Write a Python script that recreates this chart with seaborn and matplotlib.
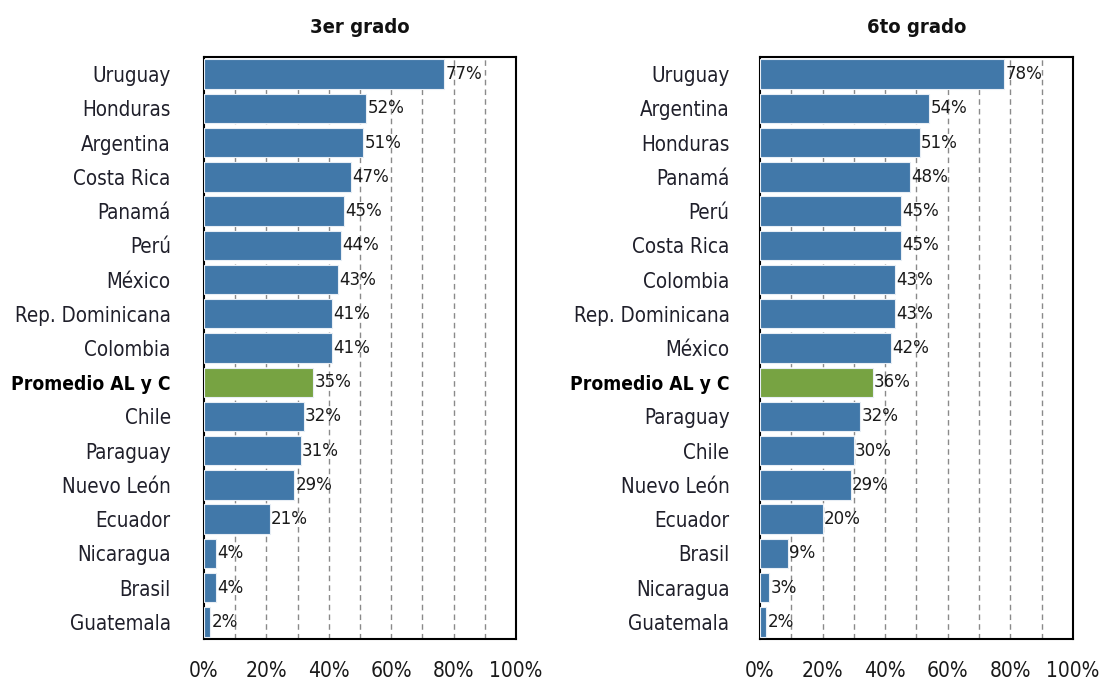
import matplotlib
matplotlib.use("Agg")
import matplotlib.pyplot as plt
import seaborn as sns
import pandas as pd

sns.set_theme(style="white")
plt.rcParams['font.family'] = ['DejaVu Sans']
plt.rcParams['font.stretch'] = 'condensed'

cats_3 = ["Uruguay", "Honduras", "Argentina", "Costa Rica", "Panamá", "Perú", "México",
          "Rep. Dominicana", "Colombia", "Promedio AL y C", "Chile", "Paraguay",
          "Nuevo León", "Ecuador", "Nicaragua", "Brasil", "Guatemala"]
vals_3 = [77, 52, 51, 47, 45, 44, 43, 41, 41, 35, 32, 31, 29, 21, 4, 4, 2]

cats_6 = ["Uruguay", "Argentina", "Honduras", "Panamá", "Perú", "Costa Rica", "Colombia",
          "Rep. Dominicana", "México", "Promedio AL y C", "Paraguay", "Chile",
          "Nuevo León", "Ecuador", "Brasil", "Nicaragua", "Guatemala"]
vals_6 = [78, 54, 51, 48, 45, 45, 43, 43, 42, 36, 32, 30, 29, 20, 9, 3, 2]

titles = ["3er grado", "6to grado"]
xticks = [0, 20, 40, 60, 80, 100]
xtick_labels = ["0%", "20%", "40%", "60%", "80%", "100%"]
avg_label = "Promedio AL y C"

BLUE = "#4178A9"
GREEN = "#77A342"

fig = plt.figure(figsize=(11.04, 6.81), dpi=100)
positions = [[0.1848, 0.0617, 0.2826, 0.8546], [0.6884, 0.0617, 0.2835, 0.8546]]
label_pads = [24, 22]

for pos, pad, cats, vals, title in zip(positions, label_pads, [cats_3, cats_6],
                                       [vals_3, vals_6], titles):
    ax = fig.add_axes(pos)
    df = pd.DataFrame({"cat": cats, "val": vals})
    df["grp"] = ["avg" if c == avg_label else "country" for c in cats]
    sns.barplot(data=df, x="val", y="cat", hue="grp", orient="h", ax=ax,
                palette={"country": BLUE, "avg": GREEN}, dodge=False, width=0.86,
                saturation=1, edgecolor="#e8eef5", linewidth=0.8, legend=False, zorder=3)
    ax.set_xlim(0, 100)
    ax.set_ylim(len(cats) - 0.5, -0.5)
    for g in range(10, 100, 10):
        ax.axvline(g, color="#8a8a8a", linestyle=(0, (4, 3)), linewidth=1.0, zorder=1)
    ax.set_xticks(xticks)
    ax.set_xticklabels(xtick_labels, fontsize=15, color="#1a1a1a")
    ax.tick_params(axis="x", length=0, pad=16)
    ax.tick_params(axis="y", length=0, pad=pad)
    ax.set_yticks(range(len(cats)))
    ax.set_yticklabels(cats, fontsize=14.8, color="#1f1f2a")
    for lbl in ax.get_yticklabels():
        if lbl.get_text() == avg_label:
            lbl.set_fontweight("bold")
            lbl.set_fontsize(13.8)
            lbl.set_color("black")
    for i, v in enumerate(vals):
        ax.text(v + 0.4, i, f"{v}%", va="center", ha="left", fontsize=13.3,
                color="#1a1a1a", zorder=4)
    ax.set_xlabel("")
    ax.set_ylabel("")
    ax.set_title(title, fontsize=14.5, fontweight="bold", pad=17, color="#111111")
    for s in ax.spines.values():
        s.set_visible(True)
        s.set_color("black")
        s.set_linewidth(1.5)

fig.savefig("out.png", dpi=100)
